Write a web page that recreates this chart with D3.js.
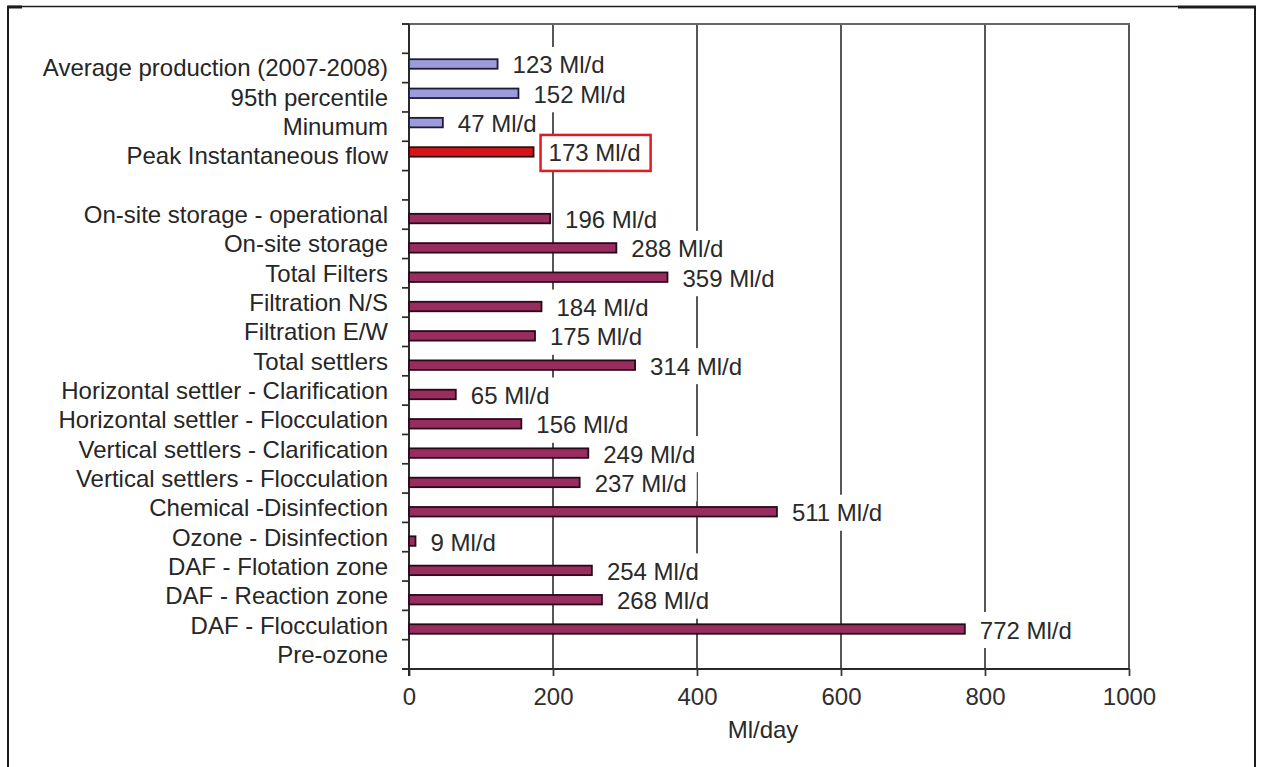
<!DOCTYPE html>
<html><head><meta charset="utf-8">
<script src="https://cdn.jsdelivr.net/npm/d3@7"></script>
<style>
body{margin:0;background:#fff}
svg{display:block}
text{font-family:"Liberation Sans",Arial,Helvetica,sans-serif}
</style>
</head><body>
<svg id="c" width="1262" height="767"></svg>
<script>
// ---- data ----
const categories = ["", "Average production (2007-2008)", "95th percentile", "Minumum", "Peak Instantaneous flow", "",
  "On-site storage - operational", "On-site storage", "Total Filters", "Filtration N/S", "Filtration E/W", "Total settlers",
  "Horizontal settler - Clarification", "Horizontal settler - Flocculation", "Vertical settlers - Clarification",
  "Vertical settlers - Flocculation", "Chemical -Disinfection", "Ozone - Disinfection", "DAF - Flotation zone",
  "DAF - Reaction zone", "DAF - Flocculation", "Pre-ozone"];
const productionValues = [null, 123, 152, 47, 173, null, null, null, null, null, null, null, null, null, null, null, null, null, null, null, null, null];
const processValues = [null, null, null, null, null, null, 196, 288, 359, 184, 175, 314, 65, 156, 249, 237, 511, 9, 254, 268, 772, null];
const seriesNames = ["production", "process"];
const xTicks = [0, 200, 400, 600, 800, 1000];
const xTitle = "Ml/day";
const unitSuffix = " Ml/d";
const highlightCategory = "Peak Instantaneous flow";

// ---- layout ----
const svg = d3.select("#c");
const W = 1262, H = 767;
const plot = {left: 409, right: 1129, top: 24, bottom: 669};
const FS = 24;

const x = d3.scaleLinear().domain([0, 1000]).range([plot.left, plot.right]);
const y = d3.scaleBand().domain(d3.range(categories.length)).range([plot.top, plot.bottom]).padding(0);
const sub = d3.scalePoint().domain(seriesNames).range([-4, 4]);
const barH = 9.5;

const colors = {production: "#9c9cdc", process: "#9a2d60", highlight: "#d4161c"};
const strokes = {production: "#1c1c38", process: "#280a18", highlight: "#2e0e0e"};

// frame
const frame = svg.append("g").attr("fill", "none").attr("stroke", "#1c1c1c");
frame.append("line").attr("x1", 8).attr("x2", 1178).attr("y1", 6.5).attr("y2", 6.5).attr("stroke-width", 1.6);
frame.append("line").attr("x1", 7).attr("x2", 22).attr("y1", 7).attr("y2", 7).attr("stroke-width", 3);
frame.append("line").attr("x1", 1178).attr("x2", 1256).attr("y1", 7).attr("y2", 7).attr("stroke-width", 3);
frame.append("line").attr("x1", 8).attr("x2", 8).attr("y1", 6).attr("y2", H).attr("stroke-width", 2);
frame.append("line").attr("x1", 1255).attr("x2", 1255).attr("y1", 6).attr("y2", H).attr("stroke-width", 2);

// gridlines (vertical) and top border
const grid = svg.append("g");
grid.selectAll("line.g").data(xTicks.filter(d => d > 0)).join("line")
  .attr("class", "g")
  .attr("x1", d => x(d)).attr("x2", d => x(d))
  .attr("y1", plot.top).attr("y2", plot.bottom)
  .attr("stroke", "#444").attr("stroke-width", 1.8);
grid.append("line").attr("x1", plot.left - 7).attr("x2", plot.right + 1)
  .attr("y1", plot.top).attr("y2", plot.top).attr("stroke", "#666").attr("stroke-width", 2);

// x axis
const xAxis = d3.axisBottom(x).tickValues(xTicks).tickSize(7).tickPadding(10).tickFormat(d3.format("d"));
const gx = svg.append("g").attr("transform", `translate(0,${plot.bottom})`).call(xAxis);
gx.select(".domain").attr("stroke", "#2a2a2a").attr("stroke-width", 2)
  .attr("d", `M${plot.left - 7},0H${plot.right + 1}`);
gx.selectAll(".tick line").attr("stroke", "#3a3a3a").attr("stroke-width", 1.8);
gx.selectAll(".tick text").attr("font-size", FS).attr("fill", "#2e2e2e").attr("font-family", null).attr("dy", null)
  .attr("y", 36);

// y axis: ticks at band boundaries
const boundaries = d3.range(categories.length + 1).map(i => plot.top + i * y.step());
const gy = svg.append("g");
gy.append("line").attr("x1", plot.left).attr("x2", plot.left).attr("y1", plot.top).attr("y2", plot.bottom + 7)
  .attr("stroke", "#2a2a2a").attr("stroke-width", 2);
gy.selectAll("line.t").data(boundaries).join("line").attr("class", "t")
  .attr("x1", plot.left - 7).attr("x2", plot.left).attr("y1", d => d).attr("y2", d => d)
  .attr("stroke", "#2a2a2a").attr("stroke-width", 1.7);
gy.selectAll("text").data(categories).join("text")
  .attr("x", 388).attr("y", (d, i) => y(i) + y.bandwidth() / 2 + 8.5)
  .attr("text-anchor", "end").attr("font-size", FS).attr("fill", "#262626")
  .text(d => d);

// bars
const rows = [];
categories.forEach((c, i) => {
  if (productionValues[i] != null) rows.push({i, c, v: productionValues[i], s: "production"});
  if (processValues[i] != null) rows.push({i, c, v: processValues[i], s: "process"});
});
const cy = d => y(d.i) + y.bandwidth() / 2 + sub(d.s);
const kind = d => d.c === highlightCategory ? "highlight" : d.s;

svg.append("g").selectAll("rect").data(rows).join("rect")
  .attr("x", x(0)).attr("y", d => cy(d) - barH / 2)
  .attr("width", d => x(d.v) - x(0)).attr("height", barH)
  .attr("fill", d => colors[kind(d)]).attr("stroke", d => strokes[kind(d)]).attr("stroke-width", 1.8);

// labels with white backgrounds
const lblG = svg.append("g");
const bgs = lblG.append("g");
const texts = lblG.append("g").selectAll("text").data(rows).join("text")
  .attr("x", d => x(d.v) + 15).attr("y", d => cy(d) + 1 + 8.5)
  .attr("font-size", FS).attr("fill", "#2a2a2a")
  .text(d => d.v + unitSuffix);
texts.each(function(d) { d.w = this.getComputedTextLength(); });
bgs.selectAll("rect").data(rows).join("rect")
  .attr("x", d => x(d.v) + 7).attr("y", d => cy(d) + 1 - 18)
  .attr("width", d => d.w + 18).attr("height", 36)
  .attr("fill", "#fff")
  .attr("stroke", d => d.c === highlightCategory ? "#e01c22" : "none")
  .attr("stroke-width", 2.5);

// x title
svg.append("text").attr("x", 763).attr("y", 738).attr("text-anchor", "middle")
  .attr("font-size", FS).attr("fill", "#2a2a2a").text(xTitle);
</script>
</body></html>
